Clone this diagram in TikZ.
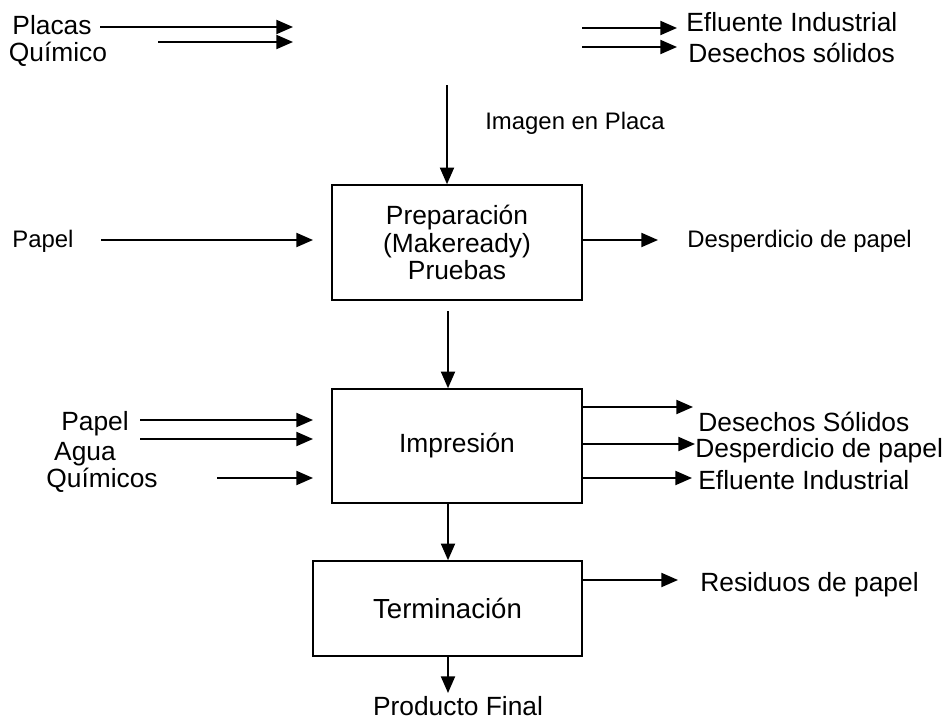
\documentclass[tikz,border=0pt]{standalone}
\usepackage{fontspec}
\setmainfont{Liberation Sans}
\usetikzlibrary{arrows.meta}

\begin{document}
\begin{tikzpicture}[x=0.02cm, y=-0.02cm, font=\fontsize{15}{15.6}\selectfont,
  main/.style = {draw, line width=0.9pt, align=center, inner sep=0pt},
  lbl/.style = {inner sep=0pt, text height=10.5pt, text depth=0pt},
  small/.style = {font=\fontsize{13.6}{15.6}\selectfont},
  flow/.style = {line width=1.1pt, -{Triangle[length=9.5pt, width=8pt]}}]
\useasboundingbox (0,0) rectangle (950,720);
\node[main, minimum width=5cm, minimum height=2.3cm] (prep) at (457,242.5) {Preparación\\(Makeready)\\Pruebas};
\node[main, minimum width=5cm, minimum height=2.28cm] (imp) at (457,446) {Impresión};
\node[main, minimum width=5.38cm, minimum height=1.9cm, font=\fontsize{15.7}{16}\selectfont] (term) at (447.5,608.5) {Terminación};
\node[lbl] (placas) at (52,25) {Placas};
\node[lbl] (quimico) at (58,52) {Químico};
\node[lbl, anchor=west] (ef1) at (686,22) {Efluente Industrial};
\node[lbl, anchor=west] (des1) at (688,53) {Desechos sólidos};
\node[lbl, small, anchor=west] (img) at (485,120) {Imagen en Placa};
\node[lbl, small] (papel1) at (43,238) {Papel};
\node[lbl, small, anchor=west] (desp1) at (687,238) {Desperdicio de papel};
\node[lbl] (papel2) at (95,421) {Papel};
\node[lbl] (agua) at (85,451) {Agua};
\node[lbl] (quim2) at (102,478) {Químicos};
\node[lbl, anchor=west] (des2) at (698,422) {Desechos Sólidos};
\node[lbl, anchor=west] (desp2) at (695,448) {Desperdicio de papel};
\node[lbl, anchor=west] (ef2) at (698,480) {Efluente Industrial};
\node[lbl, anchor=west] (res) at (700,582) {Residuos de papel};
\node[lbl] (final) at (458,706) {Producto Final};
\coordinate (p1) at (100,27);
\coordinate (p2) at (293,27);
\coordinate (q1) at (158,42);
\coordinate (q2) at (293,42);
\coordinate (e1) at (582,28);
\coordinate (e2) at (677,28);
\coordinate (d1) at (582,47);
\coordinate (d2) at (677,47);
\coordinate (i1) at (447,85);
\coordinate (a1) at (101,240);
\coordinate (a2) at (313,240);
\coordinate (b1) at (658,240);
\coordinate (m1) at (448,311);
\coordinate (m2) at (448,503);
\coordinate (m3) at (448,693);
\coordinate (c1) at (140,420);
\coordinate (c2) at (140,439);
\coordinate (c3) at (217,478);
\coordinate (s1) at (313,420);
\coordinate (s2) at (313,439);
\coordinate (s3) at (313,478);
\coordinate (o1) at (693,407);
\coordinate (o2) at (695,444);
\coordinate (o3) at (692,478);
\coordinate (r1) at (678,580);
\draw[flow] (p1) -- (p2);
\draw[flow] (q1) -- (q2);
\draw[flow] (e1) -- (e2);
\draw[flow] (d1) -- (d2);
\draw[flow] (i1) -- (i1 |- prep.north);
\draw[flow] (a1) -- (a2);
\draw[flow] (prep.east |- b1) -- (b1);
\draw[flow] (m1) -- (m1 |- imp.north);
\draw[flow] (c1) -- (s1);
\draw[flow] (c2) -- (s2);
\draw[flow] (c3) -- (s3);
\draw[flow] (imp.east |- o1) -- (o1);
\draw[flow] (imp.east |- o2) -- (o2);
\draw[flow] (imp.east |- o3) -- (o3);
\draw[flow] (m2) -- (m2 |- term.north);
\draw[flow] (term.east |- r1) -- (r1);
\draw[flow] (term.south -| m3) -- (m3);
\end{tikzpicture}
\end{document}
